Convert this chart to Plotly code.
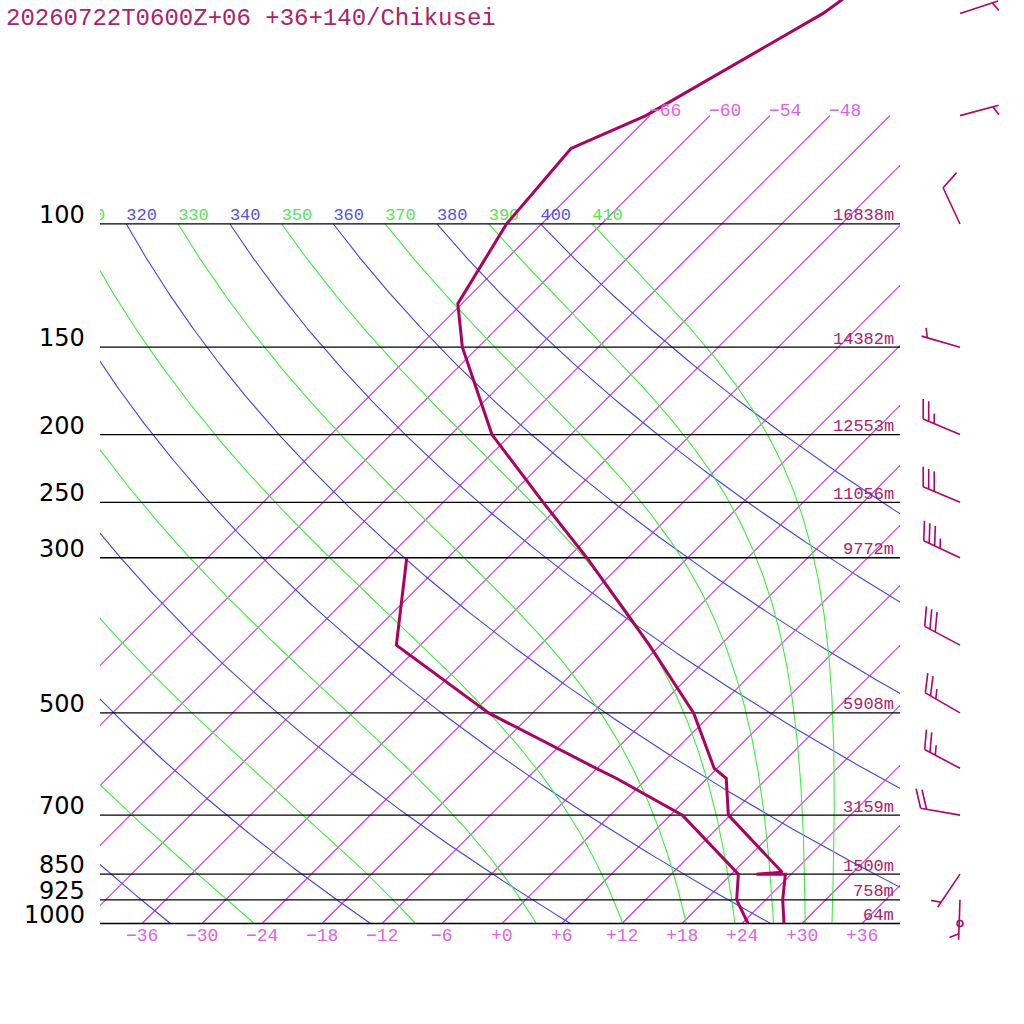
import numpy as np
import plotly.graph_objects as go

# ---- data ----
title = "20260722T0600Z+06 +36+140/Chikusei"

levels = [1000, 925, 850, 700, 500, 300, 250, 200, 150, 100]
level_heights = ["64m", "758m", "1500m", "3159m", "5908m", "9772m", "11056m", "12553m", "14382m", "16838m"]

temp_p = [1000, 925, 850, 850, 845, 700, 620, 600, 500, 400, 300, 250, 200, 150, 130, 100, 78, 70, 50, 30]
temp_c = [28.2, 25.7, 23.4, 20.5, 22.9, 11.8, 7.9, 5.7, -1.9, -13.1, -28.1, -38.0, -49.9, -61.6, -66.4, -69.5, -70.6, -66.4, -58.9, -53.0]

dew_p = [1000, 925, 850, 700, 620, 600, 500, 400, 300]
dew_c = [24.6, 21.1, 18.7, 7.2, -3.1, -6.1, -22.4, -38.4, -46.1]

wind_p = [1000, 925, 850, 700, 600, 500, 400, 300, 250, 200, 150, 100, 70, 50]
wind_dir = [0, 182, 214, 280, 298, 300, 298, 295, 293, 293, 286, 335, 75, 72]
wind_kt = [0, 5, 5, 20, 25, 25, 30, 35, 30, 25, 5, 10, 5, 5]

isotherms = [-66, -60, -54, -48, -42, -36, -30, -24, -18, -12, -6, 0, 6, 12, 18, 24, 30, 36]
bottom_ticks = [-36, -30, -24, -18, -12, -6, 0, 6, 12, 18, 24, 30, 36]
dry_theta = [240, 260, 280, 300, 320, 340, 360, 380, 400]
moist_theta = [250, 270, 290, 310, 330, 350, 370, 390, 410]

# ---- skew-T helpers ----
SKEW = 30.38          # skewed-temperature units per ln(p) unit (45 degree isotherms)
KAPPA = 0.286
PX_LN = 303.8         # pixels per ln(p) unit


def skx(t, p):
    return np.asarray(t) + SKEW * np.log(1000.0 / np.asarray(p))


def moist_adiabat(theta, p):
    # pseudo-adiabat started at 100 hPa, integrated downward in ln p
    Rd, Cp, Lv, eps = 287.04, 1005.7, 2.501e6, 0.622

    def f(T, pp):
        es = 6.112 * np.exp(17.67 * (T - 273.15) / (T - 29.65))
        rs = eps * es / (pp - es)
        return (Rd * T + Lv * rs) / (Cp + Lv * Lv * rs * eps / (Rd * T * T))

    lnp = np.log(p)
    T = theta * (p[0] / 1000.0) ** KAPPA
    out = [T]
    for i in range(len(p) - 1):
        h = lnp[i + 1] - lnp[i]
        p0, pm, p1 = p[i], np.exp(lnp[i] + h / 2), p[i + 1]
        k1 = f(T, p0)
        k2 = f(T + h * k1 / 2, pm)
        k3 = f(T + h * k2 / 2, pm)
        k4 = f(T + h * k3, p1)
        T = T + h * (k1 + 2 * k2 + 2 * k3 + k4) / 6
        out.append(T)
    return np.array(out) - 273.15


def tlabel(t):
    return ("+%d" % t) if t >= 0 else ("\u2212%d" % -t)


fig = go.Figure()

pline = np.exp(np.linspace(np.log(100), np.log(1000), 300))

# isotherms (1000 -> 70 hPa)
iso_p = np.array([1000.0, 70.0])
xs, ys = [], []
for t in isotherms:
    xs += list(skx([t, t], iso_p)) + [None]
    ys += list(iso_p) + [None]
fig.add_trace(go.Scatter(x=xs, y=ys, mode="lines", line=dict(color="#cc36d6", width=1.2), hoverinfo="skip"))

# dry adiabats
xs, ys = [], []
for th in dry_theta:
    tc = th * (pline / 1000.0) ** KAPPA - 273.15
    xs += list(skx(tc, pline)) + [None]
    ys += list(pline) + [None]
fig.add_trace(go.Scatter(x=xs, y=ys, mode="lines", line=dict(color="#4040ff", width=1.1), hoverinfo="skip"))

# moist adiabats
xs, ys = [], []
for th in moist_theta:
    tc = moist_adiabat(th, pline)
    xs += list(skx(tc, pline)) + [None]
    ys += list(pline) + [None]
fig.add_trace(go.Scatter(x=xs, y=ys, mode="lines", line=dict(color="#3cf03c", width=1.1), hoverinfo="skip"))

# isobars
xs, ys = [], []
for p in levels:
    xs += [-45, 45, None]
    ys += [p, p, None]
fig.add_trace(go.Scatter(x=xs, y=ys, mode="lines", line=dict(color="black", width=1.3), hoverinfo="skip"))

# adiabat labels at 100 hPa (clipped by the plot area)
lab_theta = sorted(dry_theta + moist_theta)
lab_col = ["#5050ff" if th in dry_theta else "#50e850" for th in lab_theta]
lab_x = [float(skx(th * 0.1 ** KAPPA - 273.15, 100)) for th in lab_theta]
fig.add_trace(go.Scatter(
    x=lab_x, y=[100] * len(lab_theta), mode="text", text=[str(th) for th in lab_theta],
    textposition="top right", cliponaxis=True,
    textfont=dict(family="Liberation Mono", size=17, color=lab_col), hoverinfo="skip"))

# temperature and dew point
fig.add_trace(go.Scatter(x=skx(temp_c, temp_p), y=temp_p, mode="lines",
                         line=dict(color="#b0005f", width=3), hoverinfo="skip"))
fig.add_trace(go.Scatter(x=skx(dew_c, dew_p), y=dew_p, mode="lines",
                         line=dict(color="#b0005f", width=3), hoverinfo="skip"))

# wind barbs on the second (full width) x axis
BARB_X = 45.8
bx_all, by_all, calm_x, calm_y = [], [], [], []
for p, d, s in zip(wind_p, wind_dir, wind_kt):
    if s == 0:
        calm_x.append(BARB_X)
        calm_y.append(p)
        continue
    r = np.radians(d)
    ux, uy = np.sin(r), -np.cos(r)
    a = np.radians(67)
    vx = ux * np.cos(a) - uy * np.sin(a)
    vy = ux * np.sin(a) + uy * np.cos(a)

    def pt(dx, dy):
        return BARB_X + dx / 10.0, p * np.exp(dy / PX_LN)

    segs = [((0, 0), (40 * ux, 40 * uy))]
    nfull = s // 10
    for i in range(nfull):
        L = 40 - 6 * i
        segs.append(((L * ux, L * uy), (L * ux + 20 * vx, L * uy + 20 * vy)))
    if s % 10 >= 5:
        L = 40 - 6 * nfull if nfull else 34
        segs.append(((L * ux, L * uy), (L * ux + 10 * vx, L * uy + 10 * vy)))
    for a0, a1 in segs:
        x0, y0 = pt(*a0)
        x1, y1 = pt(*a1)
        bx_all += [x0, x1, None]
        by_all += [y0, y1, None]

fig.add_trace(go.Scatter(x=bx_all, y=by_all, xaxis="x2", yaxis="y", mode="lines",
                         line=dict(color="#b8006a", width=1.6), hoverinfo="skip"))
fig.add_trace(go.Scatter(x=calm_x, y=calm_y, xaxis="x2", yaxis="y", mode="markers",
                         marker=dict(symbol="circle-open", size=6, color="#b8006a", line=dict(width=1.5)),
                         hoverinfo="skip"))

ann = []
# title
ann.append(dict(xref="paper", yref="paper", x=4 / 1024, y=1 - 18 / 1024, xanchor="left", yanchor="middle",
                text=title, showarrow=False, font=dict(family="Liberation Mono", size=24, color="#b0206a")))
# pressure labels and heights
for p, h in zip(levels, level_heights):
    ann.append(dict(xref="paper", yref="y", x=87 / 1024, y=np.log10(p), xanchor="right", yanchor="middle",
                    yshift=9, text=str(p), showarrow=False,
                    font=dict(family="DejaVu Sans", size=24, color="black")))
    ann.append(dict(xref="paper", yref="y", x=896 / 1024, y=np.log10(p), xanchor="right", yanchor="middle",
                    yshift=8, text=h, showarrow=False,
                    font=dict(family="Liberation Mono", size=17, color="#b0206a")))
# bottom temperature labels
for t in bottom_ticks:
    ann.append(dict(xref="x", yref="y", x=t, y=3, xanchor="center", yanchor="middle", yshift=-12,
                    text=tlabel(t), showarrow=False,
                    font=dict(family="Liberation Mono", size=18, color="#e060e8")))
# isotherm labels at the top end (70 hPa) when the whole label fits in the plot
for t in isotherms:
    xe = float(skx(t, 70))
    if -40.2 < xe and xe + 3.5 < 39.8:
        ann.append(dict(xref="x", yref="y", x=xe, y=np.log10(70), xanchor="left", yanchor="middle",
                        xshift=-3, yshift=5, text=tlabel(t), showarrow=False,
                        font=dict(family="Liberation Mono", size=18, color="#e060e8")))

p_bot = 1000 * np.exp(100.5 / PX_LN)
p_top = 1000 * np.exp(-923.5 / PX_LN)

fig.update_layout(
    width=1024, height=1024,
    margin=dict(l=0, r=0, t=0, b=0),
    paper_bgcolor="white",
    plot_bgcolor="rgba(0,0,0,0)",
    showlegend=False,
    annotations=ann,
    xaxis=dict(domain=[100 / 1024, 900 / 1024], range=[-40.2, 39.8], visible=False, fixedrange=True),
    xaxis2=dict(domain=[0, 1], range=[-50.2, 52.2], anchor="y", visible=False, fixedrange=True),
    yaxis=dict(type="log", range=[np.log10(p_bot), np.log10(p_top)], visible=False, fixedrange=True),
)

# page body has a default 8px margin; drop it so the figure fills the window
fig.write_html("out.html", config={"displayModeBar": False},
               post_script="document.body.style.margin='0px';")
